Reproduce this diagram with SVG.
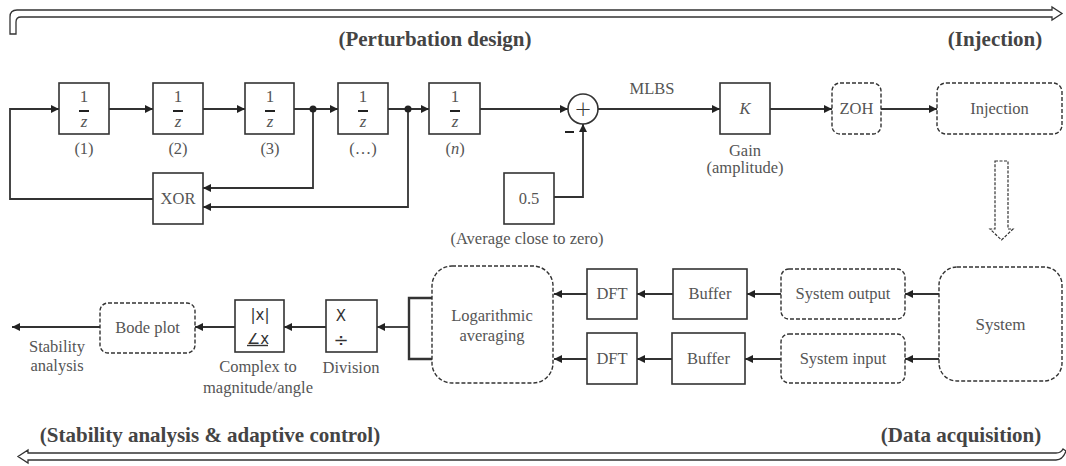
<svg xmlns="http://www.w3.org/2000/svg" width="1066" height="466" viewBox="0 0 1066 466">
<style>
.box{fill:#fff;stroke:#333;stroke-width:1.6}
.dbox{fill:#fff;stroke:#333;stroke-width:1.4;stroke-dasharray:4 2}
.t{font-family:"Liberation Serif",serif;font-size:16.5px;fill:#555;text-anchor:middle}
.h{font-family:"Liberation Serif",serif;font-size:21px;font-weight:bold;fill:#444;text-anchor:middle}
.frac{font-family:"Liberation Serif",serif;font-size:17px;fill:#555;text-anchor:middle}
.s{font-family:"DejaVu Sans","Liberation Sans",sans-serif;font-size:15px;fill:#333;text-anchor:middle}
.ln{fill:none;stroke:#333;stroke-width:1.8}
.big{fill:#fff;stroke:#333;stroke-width:1.3}
</style>
<defs>
<marker id="ah" viewBox="0 0 10 10" refX="10" refY="5" markerWidth="9" markerHeight="8" markerUnits="userSpaceOnUse" orient="auto">
<path d="M0,0 L10,5 L0,10 z" fill="#222"/>
</marker>
</defs>

<!-- big process arrows -->
<g id="topArrow">
<path class="big" d="M10,34 V17 Q10,10 17,10 H1052 V7 L1062,13.5 L1052,20 V17 H21 Q16,17 16,22 V34 Z"/>
</g>
<g id="bottomArrow">
<path class="big" d="M1056,453 Q1061,453 1063,449 L1066,451 Q1063,460 1056,460 H28 V463 L18,456.5 L28,450 V453 Z"/>
</g>
<g id="headings">
<text class="h" x="435" y="46">(Perturbation design)</text>
<text class="h" x="995" y="46">(Injection)</text>
<text class="h" x="210" y="442">(Stability analysis &amp; adaptive control)</text>
<text class="h" x="961" y="442">(Data acquisition)</text>
</g>

<!-- connectors -->
<g id="connectors">
<path class="ln" d="M153,199 H10 V109 H59" marker-end="url(#ah)"/>
<path class="ln" d="M109,109 H153" marker-end="url(#ah)"/>
<path class="ln" d="M203,109 H245" marker-end="url(#ah)"/>
<path class="ln" d="M294,109 H338" marker-end="url(#ah)"/>
<path class="ln" d="M388,109 H429" marker-end="url(#ah)"/>
<path class="ln" d="M480,109 H568" marker-end="url(#ah)"/>
<path class="ln" d="M313,109 V188 H203" marker-end="url(#ah)"/>
<path class="ln" d="M408,109 V207 H203" marker-end="url(#ah)"/>
<circle cx="313" cy="109" r="3.5" fill="#222"/>
<circle cx="408" cy="109" r="3.5" fill="#222"/>
<path class="ln" d="M554,197 H583 V124" marker-end="url(#ah)"/>
<path class="ln" d="M598,109 H720" marker-end="url(#ah)"/>
<path class="ln" d="M770,109 H832" marker-end="url(#ah)"/>
<path class="ln" d="M881,109 H937" marker-end="url(#ah)"/>
<path class="ln" d="M939,294 H905" marker-end="url(#ah)"/>
<path class="ln" d="M939,359 H905" marker-end="url(#ah)"/>
<path class="ln" d="M781,294 H747" marker-end="url(#ah)"/>
<path class="ln" d="M781,359 H745" marker-end="url(#ah)"/>
<path class="ln" d="M673,294 H637" marker-end="url(#ah)"/>
<path class="ln" d="M672,359 H637" marker-end="url(#ah)"/>
<path class="ln" d="M587,294 H554" marker-end="url(#ah)"/>
<path class="ln" d="M587,359 H554" marker-end="url(#ah)"/>
<path class="ln" d="M432,298 H409 V359 H432" style="stroke-width:2.4"/>
<path class="ln" d="M409,327 H377" marker-end="url(#ah)"/>
<path class="ln" d="M326,327 H284" marker-end="url(#ah)"/>
<path class="ln" d="M235,327 H195" marker-end="url(#ah)"/>
<path class="ln" d="M100,327 H12" marker-end="url(#ah)"/>
</g>

<!-- unit delays -->
<g id="delay1">
<rect class="box" x="59" y="83" width="50" height="51"/>
<text class="frac" x="84" y="102">1</text>
<rect x="79" y="110" width="10" height="2" fill="#222"/>
<text class="frac" x="84" y="127" font-style="italic">z</text>
<text class="t" x="84" y="154">(1)</text>
</g>
<g id="delay2">
<rect class="box" x="153" y="83" width="50" height="51"/>
<text class="frac" x="178" y="102">1</text>
<rect x="173" y="110" width="10" height="2" fill="#222"/>
<text class="frac" x="178" y="127" font-style="italic">z</text>
<text class="t" x="178" y="154">(2)</text>
</g>
<g id="delay3">
<rect class="box" x="245" y="83" width="49" height="51"/>
<text class="frac" x="270" y="102">1</text>
<rect x="265" y="110" width="10" height="2" fill="#222"/>
<text class="frac" x="270" y="127" font-style="italic">z</text>
<text class="t" x="270" y="154">(3)</text>
</g>
<g id="delay4">
<rect class="box" x="338" y="83" width="50" height="51"/>
<text class="frac" x="363" y="102">1</text>
<rect x="358" y="110" width="10" height="2" fill="#222"/>
<text class="frac" x="363" y="127" font-style="italic">z</text>
<text class="t" x="363" y="154">(…)</text>
</g>
<g id="delayN">
<rect class="box" x="429" y="83" width="51" height="51"/>
<text class="frac" x="455" y="102">1</text>
<rect x="450" y="110" width="10" height="2" fill="#222"/>
<text class="frac" x="455" y="127" font-style="italic">z</text>
<text class="t" x="455" y="154">(<tspan font-style="italic">n</tspan>)</text>
</g>
<g id="xor">
<rect class="box" x="153" y="173" width="50" height="51"/>
<text class="t" x="178" y="204">XOR</text>
</g>
<g id="sum">
<circle cx="583" cy="109" r="15" fill="#fff" stroke="#333" stroke-width="1.6"/>
<text class="s" x="583" y="116" style="font-size:21px;font-weight:300">+</text>
<rect x="565" y="131" width="9" height="2" fill="#222"/>
</g>
<g id="half">
<rect class="box" x="504" y="173" width="50" height="51"/>
<text class="t" x="529" y="204">0.5</text>
<text class="t" x="527" y="244">(Average close to zero)</text>
</g>
<g id="mlbs">
<text class="t" x="652" y="94">MLBS</text>
</g>
<g id="gain">
<rect class="box" x="720" y="83" width="50" height="51"/>
<text class="t" x="745" y="114" font-style="italic">K</text>
<text class="t" x="745" y="156">Gain</text>
<text class="t" x="745" y="173">(amplitude)</text>
</g>
<g id="zoh">
<rect class="dbox" x="832" y="83" width="49" height="51" rx="8"/>
<text class="t" x="856.5" y="114">ZOH</text>
</g>
<g id="injection">
<rect class="dbox" x="937" y="83" width="125" height="51" rx="9"/>
<text class="t" x="999.5" y="114">Injection</text>
</g>
<g id="downArrow">
<path d="M995,161 H1008 V229 H1013 L1001.5,240 L990,229 H995 Z" fill="#fff" stroke="#333" stroke-width="1.2" stroke-dasharray="3 1.5"/>
</g>

<!-- bottom row -->
<g id="system">
<rect class="dbox" x="939" y="267" width="123" height="114" rx="18"/>
<text class="t" x="1000.5" y="330" style="font-size:17px">System</text>
</g>
<g id="sysOut">
<rect class="dbox" x="781" y="269" width="124" height="50" rx="8"/>
<text class="t" x="843" y="299">System output</text>
</g>
<g id="sysIn">
<rect class="dbox" x="781" y="334" width="124" height="49" rx="8"/>
<text class="t" x="843" y="364">System input</text>
</g>
<g id="buffer1">
<rect class="box" x="673" y="269" width="74" height="50"/>
<text class="t" x="710" y="299">Buffer</text>
</g>
<g id="buffer2">
<rect class="box" x="672" y="333" width="73" height="51"/>
<text class="t" x="708.5" y="364">Buffer</text>
</g>
<g id="dft1">
<rect class="box" x="587" y="269" width="50" height="50"/>
<text class="t" x="612" y="299">DFT</text>
</g>
<g id="dft2">
<rect class="box" x="587" y="333" width="50" height="51"/>
<text class="t" x="612" y="364">DFT</text>
</g>
<g id="logavg">
<rect class="dbox" x="432" y="266" width="121" height="117" rx="20"/>
<text class="t" x="492" y="321">Logarithmic</text>
<text class="t" x="492" y="341">averaging</text>
</g>
<g id="division">
<rect class="box" x="326" y="300" width="51" height="52"/>
<text class="s" x="341" y="321">X</text>
<text class="s" x="341" y="346" style="font-size:18px">÷</text>
<text class="t" x="351" y="373">Division</text>
</g>
<g id="complex">
<rect class="box" x="235" y="300" width="49" height="52"/>
<text class="s" x="260" y="320">|x|</text>
<text class="s" x="258" y="344">∠x</text>
<line x1="247" y1="345.5" x2="268" y2="345.5" stroke="#333" stroke-width="1.4"/>
<text class="t" x="258" y="372">Complex to</text>
<text class="t" x="258" y="393">magnitude/angle</text>
</g>
<g id="bode">
<rect class="dbox" x="100" y="303" width="95" height="50" rx="8"/>
<text class="t" x="147.5" y="333">Bode plot</text>
</g>
<g id="stab">
<text class="t" x="57" y="352">Stability</text>
<text class="t" x="57" y="371">analysis</text>
</g>
</svg>
